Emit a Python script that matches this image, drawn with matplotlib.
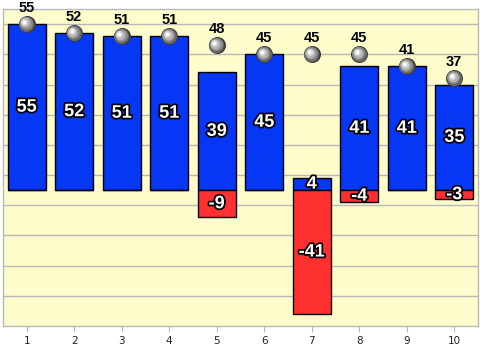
import numpy as np
import matplotlib
matplotlib.use("Agg")
import matplotlib.pyplot as plt
import matplotlib.patheffects as pe
from matplotlib.transforms import offset_copy

# data
categories = [1, 2, 3, 4, 5, 6, 7, 8, 9, 10]
positive = [55, 52, 51, 51, 39, 45, 4, 41, 41, 35]
negative = [0, 0, 0, 0, -9, 0, -41, -4, 0, -3]
totals = [55, 52, 51, 51, 48, 45, 45, 45, 41, 37]

BLUE = "#0537F5"
RED = "#FF3030"
BG = "#FFFDCC"
GRID = "#B8B8B8"

fig = plt.figure(figsize=(4.8, 3.49), dpi=100)
ax = fig.add_axes([0.006, 0.066, 0.99, 0.908])
ax.set_facecolor(BG)

x = np.array(categories)
ax.bar(x, positive, width=0.8, color=BLUE, edgecolor="black", linewidth=1.0, zorder=3)
ax.bar(x, negative, width=0.8, color=RED, edgecolor="black", linewidth=1.0, zorder=3)

ax.set_xlim(0.5, 10.5)
ax.set_ylim(-45, 60)
ax.set_yticks(np.arange(-35, 60, 10))
ax.yaxis.grid(True, color=GRID, linewidth=1.0, zorder=0)
ax.tick_params(axis="y", left=False, labelleft=False)
ax.set_xticks(x)
ax.set_xticklabels([str(c) for c in categories], fontsize=7.5, color="#222222")
ax.tick_params(axis="x", length=4, color=GRID, pad=3)
for s in ax.spines.values():
    s.set_color(GRID)
    s.set_linewidth(1.0)

# values inside bars
outline = [pe.withStroke(linewidth=2.5, foreground="black")]
for xi, p, n in zip(x, positive, negative):
    if p:
        ax.text(xi, p / 2, str(p), ha="center", va="center", color="white",
                fontsize=13, fontweight="bold", family="Liberation Sans",
                path_effects=outline, zorder=6)
    if n:
        ax.text(xi, n / 2, str(n), ha="center", va="center", color="white",
                fontsize=13, fontweight="bold", family="Liberation Sans",
                path_effects=outline, zorder=6)

# shaded grey balls at the totals
layers = [
    (150, "#3c3c3c", 0.0, 0.0),
    (120, "#666666", -0.4, 0.4),
    (85, "#8e8e8e", -0.8, 0.8),
    (50, "#b6b6b6", -1.2, 1.2),
    (22, "#dcdcdc", -1.6, 1.6),
    (6, "#ffffff", -1.9, 1.9),
]
for size, col, dx, dy in layers:
    tr = offset_copy(ax.transData, fig=fig, x=dx, y=dy, units="points")
    ax.scatter(x, totals, s=size, color=col, linewidths=0, transform=tr, zorder=7)

for xi, t in zip(x, totals):
    ax.annotate(str(t), (xi, t), xytext=(0, 6.5), textcoords="offset points",
                ha="center", va="bottom", fontsize=10.5, fontweight="bold",
                family="Liberation Sans", color="black", zorder=8)

fig.savefig("out.png", dpi=100)
